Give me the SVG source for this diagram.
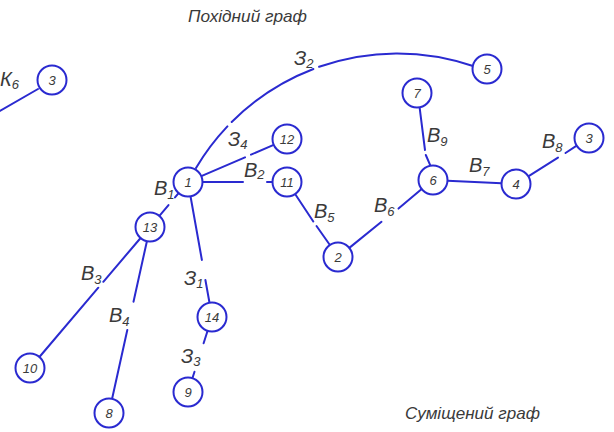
<svg xmlns="http://www.w3.org/2000/svg" width="614" height="432" viewBox="0 0 614 432">
<style>
.e{stroke:#2a2ad0;stroke-width:2;fill:none;stroke-linecap:round}
.n circle{stroke:#2a2ad0;stroke-width:2;fill:#fff}
.n text{font-family:"Liberation Sans",Arial,sans-serif;font-style:italic;font-size:13px;fill:#3a3a3a;text-anchor:middle}
.l{font-family:"Liberation Sans",Arial,sans-serif;font-style:italic;font-size:20px;fill:#3a3a3a}
.l tspan{font-size:13px}
.t{font-family:"Liberation Sans",Arial,sans-serif;font-style:italic;font-size:16.5px;fill:#3a3a3a}
</style>
<rect width="614" height="432" fill="#fff"/>
<text class="t" x="188" y="22" textLength="119" lengthAdjust="spacingAndGlyphs">Похідний граф</text>
<text class="t" x="405" y="419" textLength="135" lengthAdjust="spacingAndGlyphs">Суміщений граф</text>
<g id="connectors">
<path class="e" d="M38 89 L-2 112"/>
<path class="e" d="M196 168 A234.2 234.2 0 0 1 227.4 126.4 M231.7 122 A234.2 234.2 0 0 1 313.4 69 M319.1 66.8 A234.2 234.2 0 0 1 473 66"/>
<path class="e" d="M201.3 176.2 L245 157.3 M251 154.7 L273.7 144.8"/>
<path class="e" d="M203 182 L243 182 M267 182 L272.5 182"/>
<path class="e" d="M178.6 193.1 L175 197.4 M168.5 205.1 L159.4 215.9"/>
<path class="e" d="M190.5 196.3 L201.9 260 M205.4 280 L209.5 302.7"/>
<path class="e" d="M207.6 330.8 L203.6 343.3 M194.5 371.7 L192.4 378.2"/>
<path class="e" d="M140.6 238 L103.3 281.8 M98.3 287.7 L39.4 357"/>
<path class="e" d="M146.9 241.2 L133.5 301.7 M127.3 330 L112.1 398.8"/>
<path class="e" d="M295.1 194 L313.3 221.5 M316.5 226 L329.9 245"/>
<path class="e" d="M349.3 247.9 L381.5 221.8 M398.5 208.6 L421.7 189.1"/>
<path class="e" d="M419.6 107.3 L425 150 M425.8 155 L430.4 165.7"/>
<path class="e" d="M447.5 180.7 L501.5 183.3"/>
<path class="e" d="M528.3 176.3 L558 157.6 M565.5 153 L576.7 145.7"/>
</g>
<g id="labels">
<text class="l" x="0" y="86">К<tspan dy="3">6</tspan></text>
<text class="l" x="294" y="65">З<tspan dy="3">2</tspan></text>
<text class="l" x="228" y="146">З<tspan dy="3">4</tspan></text>
<text class="l" x="244" y="177">В<tspan dy="2">2</tspan></text>
<text class="l" x="154" y="195">В<tspan dy="4">1</tspan></text>
<text class="l" x="314" y="218">В<tspan dy="4">5</tspan></text>
<text class="l" x="374" y="212">В<tspan dy="4">6</tspan></text>
<text class="l" x="427" y="142">В<tspan dy="4">9</tspan></text>
<text class="l" x="469" y="172">В<tspan dy="4">7</tspan></text>
<text class="l" x="542" y="148">В<tspan dy="4">8</tspan></text>
<text class="l" x="184" y="285">З<tspan dy="3">1</tspan></text>
<text class="l" x="181" y="363">З<tspan dy="3">3</tspan></text>
<text class="l" x="81" y="280">В<tspan dy="4">3</tspan></text>
<text class="l" x="109" y="322">В<tspan dy="4">4</tspan></text>
</g>
<g id="n3a" class="n"><circle cx="52" cy="80" r="14.5"/><text x="52" y="85">3</text></g>
<g id="n5" class="n"><circle cx="487" cy="69" r="14.5"/><text x="487" y="74">5</text></g>
<g id="n7" class="n"><circle cx="417" cy="93" r="14.5"/><text x="417" y="98">7</text></g>
<g id="n3b" class="n"><circle cx="589" cy="138" r="14.5"/><text x="589" y="143">3</text></g>
<g id="n6" class="n"><circle cx="433" cy="180" r="14.5"/><text x="433" y="185">6</text></g>
<g id="n4" class="n"><circle cx="516" cy="184" r="14.5"/><text x="516" y="189">4</text></g>
<g id="n1" class="n"><circle cx="188" cy="182" r="14.5"/><text x="188" y="187">1</text></g>
<g id="n12" class="n"><circle cx="287" cy="139" r="14.5"/><text x="287" y="144">12</text></g>
<g id="n11" class="n"><circle cx="287" cy="182" r="14.5"/><text x="287" y="187">11</text></g>
<g id="n2" class="n"><circle cx="338" cy="257" r="14.5"/><text x="338" y="262">2</text></g>
<g id="n13" class="n"><circle cx="150" cy="227" r="14.5"/><text x="150" y="232">13</text></g>
<g id="n10" class="n"><circle cx="30" cy="368" r="14.5"/><text x="30" y="373">10</text></g>
<g id="n8" class="n"><circle cx="109" cy="413" r="14.5"/><text x="109" y="418">8</text></g>
<g id="n14" class="n"><circle cx="212" cy="317" r="14.5"/><text x="212" y="322">14</text></g>
<g id="n9" class="n"><circle cx="188" cy="392" r="14.5"/><text x="188" y="397">9</text></g>
</svg>
